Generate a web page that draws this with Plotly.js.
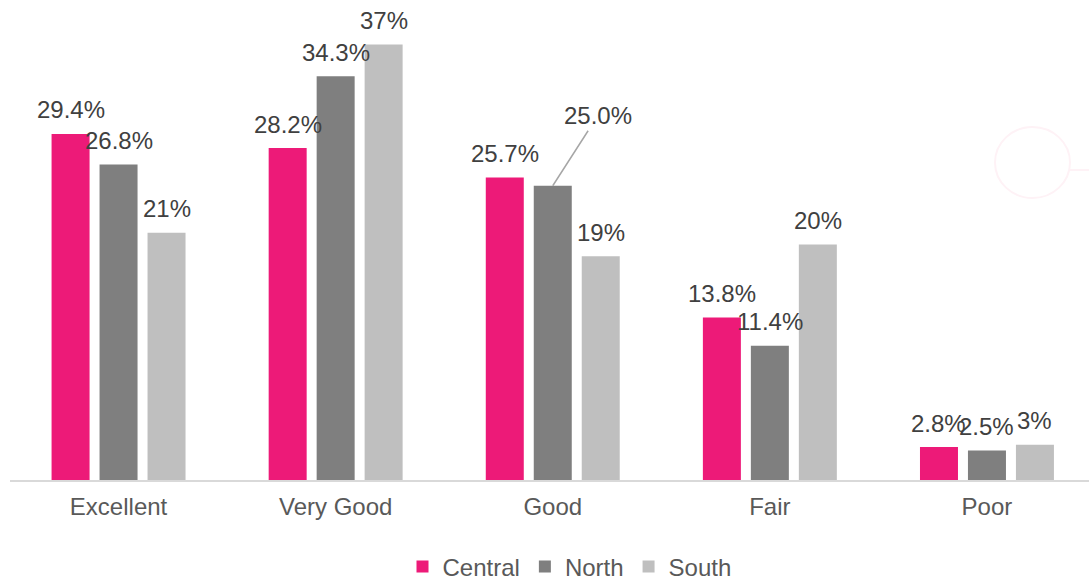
<!DOCTYPE html>
<html>
<head>
<meta charset="utf-8">
<script src="https://cdn.plot.ly/plotly-3.0.1.min.js"></script>
<style>html,body{margin:0;padding:0;background:#fff;}#chart{width:1089px;height:580px;}</style>
</head>
<body>
<div id="chart"></div>
<script>
// ---- data ----
const categories = ["Excellent", "Very Good", "Good", "Fair", "Poor"];
const seriesNames = ["Central", "North", "South"];
const central = [29.4, 28.2, 25.7, 13.8, 2.8];
const north = [26.8, 34.3, 25.0, 11.4, 2.5];
const south = [21, 37, 19, 20, 3];
const centralLabels = ["29.4%", "28.2%", "25.7%", "13.8%", "2.8%"];
const northLabels = ["26.8%", "34.3%", "25.0%", "11.4%", "2.5%"];
const southLabels = ["21%", "37%", "19%", "20%", "3%"];

// ---- styles ----
const colors = ["#ED1A78", "#7F7F7F", "#BFBFBF"];
const FONT = "Liberation Sans, Arial, sans-serif";
const FS = 24;
const series = [central, north, south];
const labels = [centralLabels, northLabels, southLabels];

const traces = series.map((vals, i) => ({
  type: "bar",
  name: seriesNames[i],
  x: categories,
  y: vals,
  marker: {color: colors[i]},
  hoverinfo: "none"
}));

const W = 1089, H = 580, L = 10, R = 0, T = 10, B = 100;
const plotW = W - L - R, plotH = H - T - B;
const xr = [-0.5, 4.47];
const catPx = plotW / (xr[1] - xr[0]);
const bargap = 0.337, bargroupgap = 0.208;
const slotPx = catPx * (1 - bargap) / 3;

const annotations = [];
series.forEach((vals, i) => {
  vals.forEach((v, j) => {
    const shift = (i - 1) * slotPx;
    const special = (i === 1 && j === 2); // Good / North with leader line
    if (special) {
      annotations.push({
        x: categories[j], y: v, xref: "x", yref: "y",
        text: labels[i][j], showarrow: true, arrowhead: 0, arrowwidth: 1.5,
        arrowcolor: "#A6A6A6", ax: 45, ay: -70, standoff: 0,
        font: {family: FONT, size: FS, color: "#404040"}
      });
    } else {
      annotations.push({
        x: categories[j], y: v, xref: "x", yref: "y",
        text: labels[i][j], showarrow: false,
        xshift: shift, yshift: 24, yanchor: "middle", xanchor: "center",
        font: {family: FONT, size: FS, color: "#404040"}
      });
    }
  });
});

const layout = {
  width: W, height: H,
  margin: {l: L, r: R, t: T, b: B, pad: 0, autoexpand: false},
  paper_bgcolor: "#ffffff", plot_bgcolor: "#ffffff",
  barmode: "group", bargap: bargap, bargroupgap: bargroupgap,
  font: {family: FONT, size: FS, color: "#595959"},
  xaxis: {
    type: "category", range: xr, showline: true, linecolor: "#D9D9D9", linewidth: 1.5,
    showgrid: false, zeroline: false, ticks: "", ticklabelstandoff: 5, automargin: false,
    tickfont: {family: FONT, size: FS, color: "#595959"}, fixedrange: true
  },
  yaxis: {
    range: [0, plotH / 11.77], visible: false, showgrid: false, zeroline: false, fixedrange: true
  },
  showlegend: true,
  legend: {
    orientation: "h", x: 0.5 + 20 / plotW, xanchor: "center", y: -(567 - 480) / plotH, yanchor: "middle",
    font: {family: FONT, size: FS, color: "#595959"}, bgcolor: "rgba(0,0,0,0)", traceorder: "normal"
  },
  annotations: annotations,
  shapes: [
    {type: "circle", xref: "paper", yref: "paper", xsizemode: "pixel", ysizemode: "pixel",
     xanchor: (1032.5 - L) / plotW, yanchor: (480 - 162.5) / plotH,
     x0: -37.5, x1: 37.5, y0: -35.5, y1: 35.5,
     line: {color: "#FEF2F6", width: 2}, layer: "below"},
    {type: "line", xref: "paper", yref: "paper", xsizemode: "pixel", ysizemode: "pixel",
     xanchor: (1070 - L) / plotW, yanchor: (480 - 170) / plotH,
     x0: 0, x1: 19, y0: 0, y1: 0,
     line: {color: "#FEF2F6", width: 2}, layer: "below"}
  ]
};

Plotly.newPlot("chart", traces, layout, {displayModeBar: false, staticPlot: true});
</script>
</body>
</html>
